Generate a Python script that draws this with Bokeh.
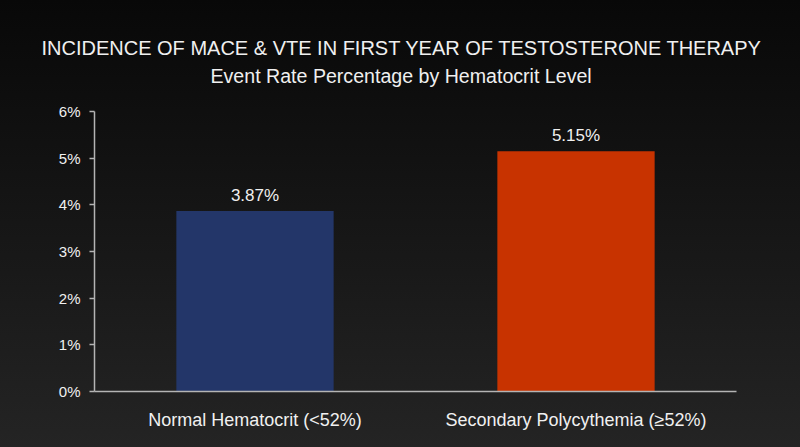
from bokeh.plotting import figure
from bokeh.models import (ColumnDataSource, FactorRange, Range1d, FixedTicker,
                          PrintfTickFormatter, LabelSet, Title, GlobalInlineStyleSheet)
from bokeh.core.properties import value
from bokeh.embed import file_html
from bokeh.resources import INLINE

# chart data
categories = ["Normal Hematocrit (<52%)", "Secondary Polycythemia (≥52%)"]
event_rates = [3.87, 5.15]
rate_labels = ["3.87%", "5.15%"]
bar_colors = ["#233669", "#c83300"]
y_ticks = [0, 1, 2, 3, 4, 5, 6]

FONT = "Liberation Sans"
TEXT = "#f0f0f0"
AXIS = "#b4b4b4"

source = ColumnDataSource(dict(cat=categories, rate=event_rates,
                               label=rate_labels, color=bar_colors))

p = figure(x_range=FactorRange(factors=categories, range_padding=0),
           y_range=Range1d(0, 6), title=None,
           width=800, height=447, output_backend="svg", toolbar_location=None,
           min_border_left=94, min_border_right=64,
           min_border_top=111, min_border_bottom=56)

# dark gradient page behind a transparent plot
p.background_fill_color = None
p.border_fill_color = None
p.outline_line_color = None
p.stylesheets = [GlobalInlineStyleSheet(
    css="html{height:100%;background:linear-gradient(to bottom,#080808 0%,#242424 100%);}")]

# the trailing empty line leaves the gap between the subtitle and the frame
p.add_layout(Title(text="Event Rate Percentage by Hematocrit Level\n", align="left", offset=116,
                   text_font=FONT, text_font_size="19.6px", text_font_style="normal",
                   text_line_height=1.0, text_color=TEXT, standoff=6), "above")
p.add_layout(Title(text="INCIDENCE OF MACE & VTE IN FIRST YEAR OF TESTOSTERONE THERAPY",
                   align="left", offset=-53, text_font=FONT, text_font_size="20px",
                   text_font_style="normal", text_color=TEXT, standoff=2), "above")

p.vbar(x="cat", top="rate", width=0.49, source=source,
       fill_color="color", line_color=None)

p.add_layout(LabelSet(x="cat", y="rate", text="label", source=source,
                      text_align="center", text_baseline="alphabetic", y_offset=10,
                      text_font=value(FONT), text_font_size="17px", text_color=TEXT))

p.xgrid.grid_line_color = None
p.ygrid.grid_line_color = None

for ax in (p.xaxis, p.yaxis):
    ax.axis_line_color = AXIS
    ax.axis_line_width = 1.5
    ax.minor_tick_line_color = None
    ax.major_label_text_font = FONT
    ax.major_label_text_color = TEXT

p.xaxis.major_tick_line_color = None
p.xaxis.major_label_text_font_size = "18px"
p.xaxis.major_label_standoff = 12

p.yaxis.ticker = FixedTicker(ticks=y_ticks)
p.yaxis.formatter = PrintfTickFormatter(format="%d%%")
p.yaxis.major_tick_line_color = AXIS
p.yaxis.major_tick_line_width = 1.5
p.yaxis.major_tick_out = 5
p.yaxis.major_tick_in = 0
p.yaxis.major_label_standoff = 9
p.yaxis.major_label_text_font_size = "15px"

open("out.html", "w").write(file_html(p, INLINE))
